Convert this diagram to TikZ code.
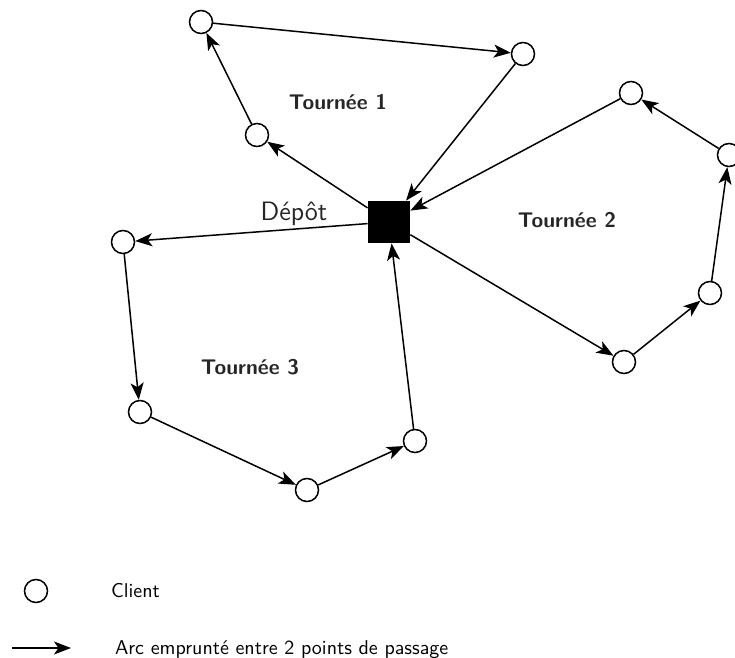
\documentclass[tikz,border=0pt]{standalone}
\usepackage{amsfonts,amssymb,amsmath}
\usepackage{tikz}
\usetikzlibrary{arrows.meta}

\tikzset{
  client/.style={circle,draw,line width=0.75pt,minimum size=11.5pt,inner sep=0pt},
  depot/.style={rectangle,fill=black,minimum size=21pt,inner sep=0pt},
  arc/.style={line width=0.75pt,-{Stealth[length=8.5pt,width=6.5pt,inset=2.2pt]}},
  tour/.style={font=\sffamily\bfseries\fontsize{10.6}{12}\selectfont,text=black!85}
}

\begin{document}
\begin{tikzpicture}[x=0.5pt,y=-0.5pt,font=\sffamily]
\useasboundingbox (0,0) rectangle (735,658);

\node[depot] (d) at (389,222) {};
\node[font=\sffamily\fontsize{13.3}{15}\selectfont,text=black!85] (ldep) at (294,214) {Dépôt};

\node[client] (c1) at (201,22) {};
\node[client] (c2) at (523,54) {};
\node[client] (c3) at (257,135) {};

\node[client] (c4) at (631,93) {};
\node[client] (c5) at (729,155) {};
\node[client] (c6) at (710,293) {};
\node[client] (c7) at (624,362) {};

\node[client] (c8) at (123,242) {};
\node[client] (c9) at (140,412) {};
\node[client] (c10) at (307,490) {};
\node[client] (c11) at (415,441) {};

\node[tour] (t1) at (338,102) {Tournée 1};
\node[tour] (t2) at (567,220) {Tournée 2};
\node[tour] (t3) at (250,367) {Tournée 3};

\draw[arc] (d) -- (c3);
\draw[arc] (c3) -- (c1);
\draw[arc] (c1) -- (c2);
\draw[arc] (c2) -- (d);

\draw[arc] (d) -- (c7);
\draw[arc] (c7) -- (c6);
\draw[arc] (c6) -- (c5);
\draw[arc] (c5) -- (c4);
\draw[arc] (c4) -- (d);

\draw[arc] (d) -- (c8);
\draw[arc] (c8) -- (c9);
\draw[arc] (c9) -- (c10);
\draw[arc] (c10) -- (c11);
\draw[arc] (c11) -- (d);

\node[client] (lc) at (36,591) {};
\node[anchor=west] (lct) at (104,591) {Client};
\coordinate (la1) at (12,648);
\coordinate (la2) at (71,648);
\draw[arc] (la1) -- (la2);
\node[anchor=west] (lat) at (108,650) {Arc emprunté entre 2 points de passage};
\end{tikzpicture}
\end{document}
